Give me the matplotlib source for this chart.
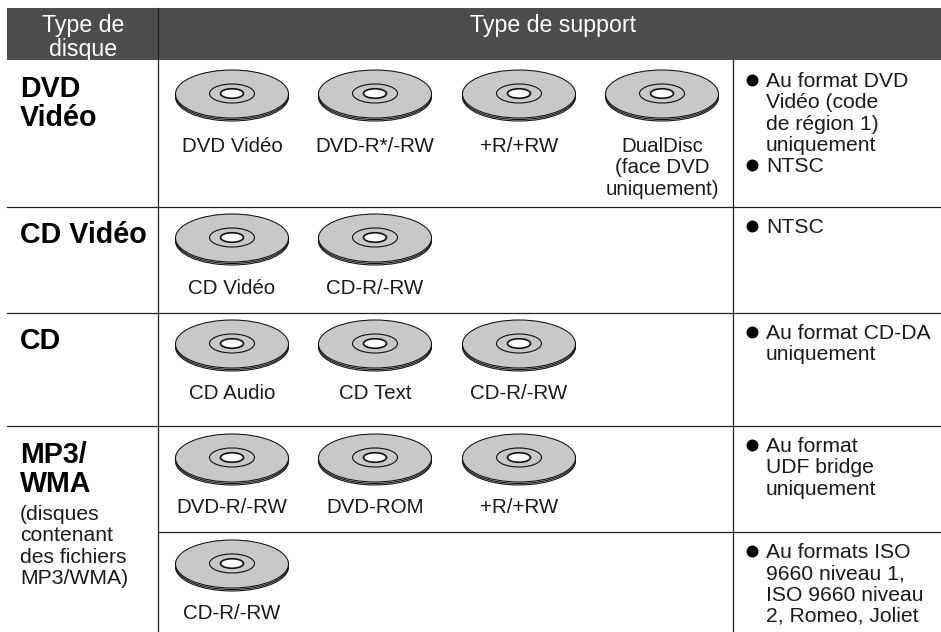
import matplotlib
matplotlib.use("Agg")
import matplotlib.pyplot as plt
from matplotlib.patches import Ellipse, Rectangle

plt.rcParams['font.family'] = ['Liberation Sans', 'DejaVu Sans']

W, H = 941, 632

# table content
header_left = ["Type de", "disque"]
header_right = "Type de support"

row_titles = [["DVD", "Vidéo"], ["CD Vidéo"], ["CD"], ["MP3/", "WMA"]]
mp3_note = ["(disques", "contenant", "des fichiers", "MP3/WMA)"]

dvd_labels = [["DVD Vidéo"], ["DVD-R*/-RW"], ["+R/+RW"], ["DualDisc", "(face DVD", "uniquement)"]]
vcd_labels = [["CD Vidéo"], ["CD-R/-RW"]]
cd_labels = [["CD Audio"], ["CD Text"], ["CD-R/-RW"]]
mp3_labels = [["DVD-R/-RW"], ["DVD-ROM"], ["+R/+RW"]]
mp3_cd_labels = [["CD-R/-RW"]]

notes = [
    [["Au format DVD", "Vidéo (code", "de région 1)", "uniquement"], ["NTSC"]],
    [["NTSC"]],
    [["Au format CD-DA", "uniquement"]],
    [["Au format", "UDF bridge", "uniquement"]],
    [["Au formats ISO", "9660 niveau 1,", "ISO 9660 niveau", "2, Romeo, Joliet"]],
]

# layout, in reference pixels (y values are text baselines)
disc_x = [232, 375, 519, 662]
disc_y = [95.5, 239.5, 345.5, 459.5, 565.5]
label_y = [152, 294, 399, 513, 619]
title_y = [97, 243, 349, 463]
note_y = [[87, 172], [233], [339], [452], [558]]
row_lines = [207, 312.5, 426]

TEXT_COLOR = '#1a1a1a'
DISC_COLOR = '#c8c8c8'
LINE_COLOR = '#222222'


def draw_disc(ax, x, y):
    # two rims under the top face give the stacked edge
    for offset, z in [(1.5, 2), (0, 3), (-1.5, 4)]:
        ax.add_patch(Ellipse((x, y + offset), 113, 48, fc=DISC_COLOR, ec='#111111', lw=0.75, zorder=z))
    ax.add_patch(Ellipse((x, y - 2), 45, 19, fc=DISC_COLOR, ec='#111111', lw=0.8, zorder=5))
    ax.add_patch(Ellipse((x, y - 2), 23, 9.5, fc='white', ec='#111111', lw=1.2, zorder=6))


def draw_lines(ax, x, y, lines, step=21.3, **kw):
    for i, line in enumerate(lines):
        ax.text(x, y + i * step, line, va='baseline', **kw)


fig = plt.figure(figsize=(W / 100, H / 100), dpi=100)
ax = fig.add_axes([0, 0, 1, 1])
ax.set_xlim(0, W)
ax.set_ylim(H, 0)
ax.axis('off')

#
# Header
ax.add_patch(Rectangle((7, 8), W - 7, 52, fc='#4d4d4d', ec='none', zorder=1))
draw_lines(ax, 83, 32, header_left, step=24, color='white', fontsize=16.7, ha='center', zorder=3)
ax.text(553, 32, header_right, color='white', fontsize=16.7, ha='center', va='baseline', zorder=3)

#
# Grid lines
ax.plot([158.5, 158.5], [8, H], color=LINE_COLOR, lw=0.9, zorder=2)
ax.plot([733.5, 733.5], [60, H], color=LINE_COLOR, lw=0.9, zorder=2)
for y in row_lines:
    ax.plot([7, W], [y, y], color=LINE_COLOR, lw=0.9, zorder=2)
ax.plot([158, W], [532, 532], color=LINE_COLOR, lw=0.9, zorder=2)

#
# Row titles
for title, y in zip(row_titles, title_y):
    draw_lines(ax, 20, y, title, step=29.5, color='black', fontsize=20.6, fontweight='bold', ha='left')
draw_lines(ax, 20, 520, mp3_note, step=21.3, color=TEXT_COLOR, fontsize=15.2, ha='left')

#
# Discs and labels
disc_rows = [dvd_labels, vcd_labels, cd_labels, mp3_labels, mp3_cd_labels]
for r, labels in enumerate(disc_rows):
    for c, label in enumerate(labels):
        draw_disc(ax, disc_x[c], disc_y[r])
        draw_lines(ax, disc_x[c], label_y[r], label, color=TEXT_COLOR, fontsize=14.75, ha='center')

#
# Notes column
for r, row in enumerate(notes):
    for lines, y in zip(row, note_y[r]):
        ax.plot(752, y - 7, 'o', color='black', ms=8.6, mew=0, zorder=3)
        draw_lines(ax, 766, y, lines, color=TEXT_COLOR, fontsize=15.2, ha='left')

fig.savefig("out.png", dpi=100)
